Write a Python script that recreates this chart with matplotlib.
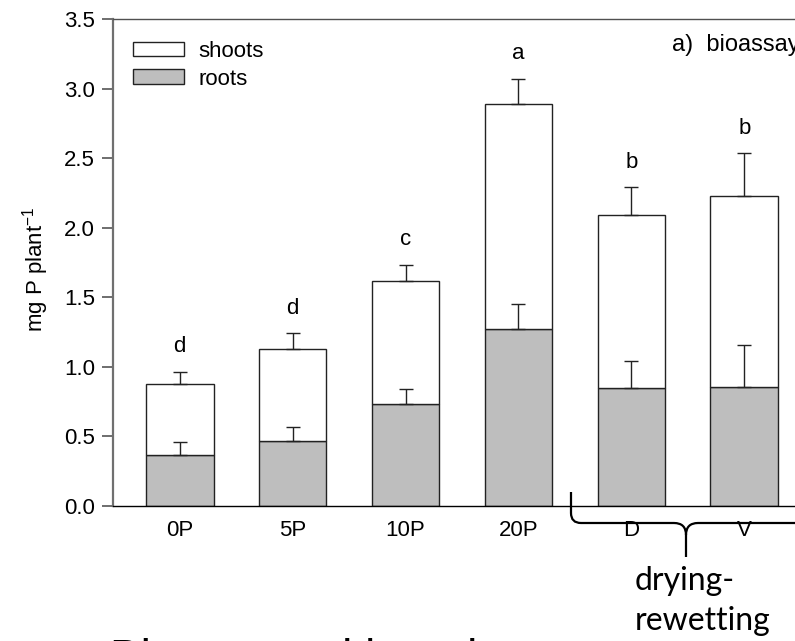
import matplotlib
matplotlib.use("Agg")
import matplotlib.pyplot as plt
from matplotlib.patches import Patch, PathPatch
from matplotlib.path import Path

plt.rcParams['font.family'] = ['Liberation Sans', 'DejaVu Sans']
plt.rcParams['mathtext.fontset'] = 'custom'
plt.rcParams['mathtext.rm'] = 'Liberation Sans'
plt.rcParams['mathtext.default'] = 'regular'

# ===== data: P uptake per plant =====
treatments = ["0P", "5P", "10P", "20P", "D", "V"]
roots = [0.37, 0.47, 0.73, 1.27, 0.845, 0.855]
roots_se = [0.09, 0.10, 0.11, 0.18, 0.20, 0.305]
shoots = [0.505, 0.66, 0.89, 1.62, 1.245, 1.37]
shoots_se = [0.09, 0.11, 0.115, 0.18, 0.20, 0.31]
letters = ["d", "d", "c", "a", "b", "b"]

W, H = 795, 641
fig = plt.figure(figsize=(W / 100, H / 100), dpi=100)
# axes runs past the right edge of the slide
ax = fig.add_axes([113 / W, (H - 506) / H, 698 / W, 487 / H])

x = list(range(len(treatments)))
width = 0.6
totals = [r + s for r, s in zip(roots, shoots)]

ax.bar(x, roots, width, color="#bebebe", edgecolor="#222222", linewidth=1.0,
       yerr=[[0] * len(x), roots_se], capsize=5,
       error_kw=dict(ecolor="#222222", elinewidth=1.0, capthick=1.0))
ax.bar(x, shoots, width, bottom=roots, color="white", edgecolor="#222222", linewidth=1.0,
       yerr=[[0] * len(x), shoots_se], capsize=5,
       error_kw=dict(ecolor="#222222", elinewidth=1.0, capthick=1.0))

# significance letters above the error bars
for xi, t, se, lab in zip(x, totals, shoots_se, letters):
    ax.text(xi, t + se + 0.14, lab, ha="center", va="baseline", fontsize=16)

ax.text(4.36, 3.31, "a)  bioassay", ha="left", va="center", fontsize=17, clip_on=False)

ax.set_xlim(-0.59, 5.59)
ax.set_ylim(0, 3.5)
ax.set_yticks([0.0, 0.5, 1.0, 1.5, 2.0, 2.5, 3.0, 3.5])
ax.set_yticklabels(["0.0", "0.5", "1.0", "1.5", "2.0", "2.5", "3.0", "3.5"])
ax.set_xticks(x)
ax.set_xticklabels(treatments)
ax.tick_params(axis="y", direction="out", length=8, width=1.2, pad=5, labelsize=16, color="#555555")
ax.tick_params(axis="x", length=0, pad=10, labelsize=16)

ax.spines["left"].set_color("#707070")
ax.spines["left"].set_linewidth(1.6)
ax.spines["top"].set_color("#505050")
ax.spines["top"].set_linewidth(1.0)
ax.spines["bottom"].set_color("black")
ax.spines["bottom"].set_linewidth(1.0)
ax.spines["right"].set_visible(False)

ax.set_ylabel(r"mg P plant$^{-1}$", fontsize=16)
ax.yaxis.set_label_coords(-0.089, 0.487)

handles = [Patch(facecolor="white", edgecolor="#222222", linewidth=1.0, label="shoots"),
           Patch(facecolor="#bebebe", edgecolor="#222222", linewidth=1.0, label="roots")]
ax.legend(handles=handles, loc="upper left", bbox_to_anchor=(0.0287, 0.955),
          frameon=False, fontsize=16, handlelength=2.3, handleheight=0.63,
          handletextpad=0.63, labelspacing=0.3, borderpad=0, borderaxespad=0)


# brace under D and V, drawn in pixel space of the figure
def px(xp, yp):
    return (xp / W, (H - yp) / H)


verts = [px(571, 492), px(571, 513), px(571, 523), px(581, 523), px(674, 523),
         px(686, 523), px(686, 535), px(686, 557),
         px(686, 535), px(686, 523), px(698, 523), px(800, 523)]
codes = [Path.MOVETO, Path.LINETO, Path.CURVE3, Path.CURVE3, Path.LINETO,
         Path.CURVE3, Path.CURVE3, Path.LINETO,
         Path.MOVETO, Path.CURVE3, Path.CURVE3, Path.LINETO]
fig.add_artist(PathPatch(Path(verts, codes), facecolor="none", edgecolor="black",
                         linewidth=1.6, transform=fig.transFigure, clip_on=False))

fig.text(635 / W, (H - 590) / H, "drying-", family=["Lato", "DejaVu Sans"],
         fontsize=23, ha="left", va="baseline")
fig.text(635 / W, (H - 630) / H, "rewetting", family=["Lato", "DejaVu Sans"],
         fontsize=23, ha="left", va="baseline")
fig.text(110 / W, (H - 672) / H, "Bioassay with maize", fontsize=33,
         ha="left", va="baseline")

fig.savefig("out.png", dpi=100)
